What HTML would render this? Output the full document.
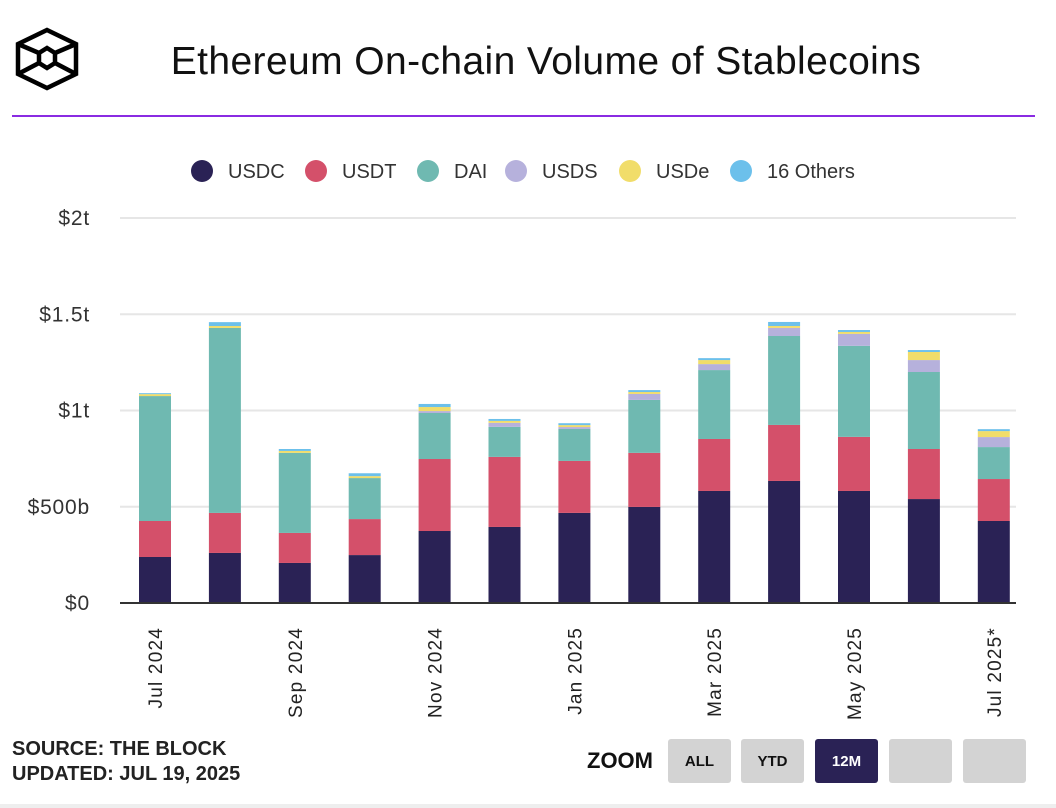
<!DOCTYPE html>
<html><head><meta charset="utf-8"><style>
body{margin:0;width:1056px;height:808px;background:#fff;font-family:"Liberation Sans",sans-serif;overflow:hidden;position:relative}
.btn{position:absolute;top:739px;width:63px;height:44px;background:#d3d3d3;border-radius:3px;font:bold 15px "Liberation Sans",sans-serif;text-align:center;line-height:46px;color:#111}
</style></head><body>
<svg style="position:absolute;left:12px;top:26px" width="70" height="66" viewBox="0 0 70 66">
<g fill="none" stroke="#000" stroke-width="4.5" stroke-linejoin="miter">
<polygon points="35,4 64,18 64,48 35,62 6,48 6,18"/>
<polygon points="35,22 43,27 43,37 35,42 27,37 27,27"/>
<line x1="6" y1="18" x2="27" y2="27"/><line x1="64" y1="18" x2="43" y2="27"/>
<line x1="6" y1="48" x2="27" y2="37"/><line x1="64" y1="48" x2="43" y2="37"/>
</g></svg>
<div style="position:absolute;left:0;width:1092px;top:40px;text-align:center;font-size:39px;letter-spacing:0.4px;color:#111">Ethereum On-chain Volume of Stablecoins</div>
<div style="position:absolute;left:12px;top:115px;width:1023px;height:2px;background:#8a2be2"></div>
<svg id="chart" style="position:absolute;left:0;top:0" width="1056" height="730"></svg>
<div style="position:absolute;left:12px;top:737px;font-weight:bold;font-size:20px;line-height:25px;color:#222">SOURCE: THE BLOCK<br>UPDATED: JUL 19, 2025</div>
<div style="position:absolute;left:587px;top:748px;font-weight:bold;font-size:22px;color:#111">ZOOM</div>
<div class="btn" style="left:668px">ALL</div>
<div class="btn" style="left:741px">YTD</div>
<div class="btn" style="left:815px;background:#2a2255;color:#fff">12M</div>
<div class="btn" style="left:889px"></div>
<div class="btn" style="left:963px"></div>
<div style="position:absolute;left:0;top:804px;width:1056px;height:4px;background:#eee"></div>
<script>
const categories=["Jul 2024","Aug 2024","Sep 2024","Oct 2024","Nov 2024","Dec 2024","Jan 2025","Feb 2025","Mar 2025","Apr 2025","May 2025","Jun 2025","Jul 2025*"];
const seriesNames=["USDC","USDT","DAI","USDS","USDe","16 Others"];
const usdc=[239,260,208,249,374,395,468,499,582,634,582,540,426];
const usdt=[187,208,156,187,374,364,270,281,270,291,281,260,218];
const dai=[649,961,416,213,239,156,166,275,358,462,473,400,166];
const usds=[0,0,0,0,10,21,10,31,31,42,62,62,52];
const usde=[10,10,10,10,21,10,10,10,21,10,10,42,31];
const others=[5,20,10,15,16,10,10,10,10,21,10,10,10];
const yTicks=[0,500,1000,1500,2000];
const yTickLabels=["$0","$500b","$1t","$1.5t","$2t"];
const xTickIdx=[0,2,4,6,8,10,12];
const colors=["#2a2255","#d4506a","#6fb9b1","#b6b1dc","#f1dd6a","#6cc0eb"];
const svg=document.getElementById('chart');const NS="http://www.w3.org/2000/svg";
function el(t,a,p){const e=document.createElementNS(NS,t);for(const k in a)e.setAttribute(k,a[k]);(p||svg).appendChild(e);return e;}
const y=v=>603-v*0.1925;
const x=i=>155+i*69.9;
yTicks.forEach((t,i)=>{
 if(t>0){const g=el('line',{x1:120,x2:1016,y1:y(t),y2:y(t),stroke:'#e6e6e6','stroke-width':2});
 }
 const tx=el('text',{x:90,y:y(t)+7,'text-anchor':'end','font-size':21,'letter-spacing':0.8,fill:'#333'});tx.textContent=yTickLabels[i];
 
});
const series=[usdc,usdt,dai,usds,usde,others];
categories.forEach((c,i)=>{let base=0;
 series.forEach((s,j)=>{const v=s[i];if(v<=0)return;
  const r=el('rect',{x:x(i)-16,width:32,y:y(base+v),height:v*0.1925,fill:colors[j]});
  
  base+=v;});
});
const ax=el('line',{x1:120,x2:1016,y1:603,y2:603,stroke:'#333','stroke-width':2});

xTickIdx.forEach(i=>{const t=el('text',{transform:`translate(${x(i)+7},627) rotate(-90)`,'text-anchor':'end','font-size':19,'letter-spacing':1.2,fill:'#222'});
 t.textContent=categories[i];});
const lx=[202,316,428,516,630,741];
seriesNames.forEach((n,j)=>{const g=el('g',{});
 el('circle',{cx:lx[j],cy:171,r:11,fill:colors[j]},g);
 const t=el('text',{x:lx[j]+26,y:178,'font-size':20,fill:'#333'},g);t.textContent=n;});
</script>
</body></html>
